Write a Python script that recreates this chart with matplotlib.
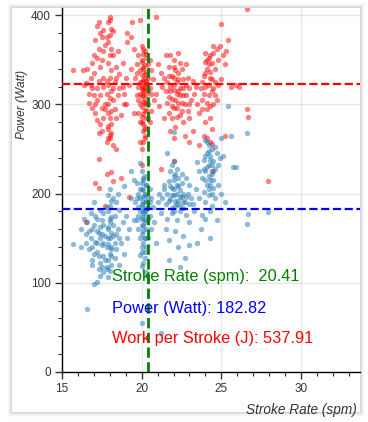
import matplotlib as mpl
import matplotlib.pyplot as plt
from matplotlib.patches import Rectangle
from matplotlib.ticker import MultipleLocator

# values
stroke_rate_mean = 20.41
power_mean = 182.82
work_per_stroke_mean = 537.91
work_line_level = 323   # red reference line as drawn on the power axis

# red points (work per stroke, drawn on the power axis)
red_x = [
    # cluster near 17-19 spm
    18.0, 17.9, 18.1, 18.0, 17.9, 18.1, 18.0, 17.9, 18.1, 18.0, 17.9, 18.1, 18.0, 17.9, 18.1, 18.0, 17.9, 18.1, 18.0,
    17.2, 17.4, 17.1, 17.6, 17.3, 17.7, 17.0, 16.9, 17.5, 16.6, 16.8, 16.5, 17.3, 17.6, 16.9, 16.4, 17.8, 17.2,
    17.5, 17.1, 17.6, 17.4, 17.9, 17.3, 18.4, 18.6, 18.3, 18.8, 18.5, 18.9, 18.3, 18.7, 18.2, 18.5, 19.0, 19.2,
    18.9, 17.7, 17.0, 16.7, 16.3, 15.7, 19.1, 19.3, 18.8, 17.8,
    17.0, 17.2, 17.4, 17.6, 17.8, 18.2, 18.4, 16.8, 17.1, 17.4, 17.7, 18.2, 18.4, 17.9, 17.5, 18.1, 17.3, 17.5,
    18.0, 18.2, 17.8, 16.7, 16.9, 18.6, 17.2, 18.0, 17.6, 17.2,
    # cluster near 20 spm
    20.0, 20.2, 20.1, 20.3, 20.0, 20.2, 20.1, 20.3, 20.0, 20.2, 20.1, 20.3, 20.0, 20.2, 20.1, 20.3, 20.0, 20.2,
    20.1, 20.3, 20.0, 20.2, 20.1, 20.3, 20.0, 20.2, 20.1,
    19.7, 19.6, 19.8, 19.7, 19.9, 20.5, 20.6, 20.7, 20.5, 20.8, 20.6, 19.8, 19.5, 21.0, 21.2, 21.3, 20.9, 21.1,
    19.9, 19.4, 19.1, 20.9, 21.5, 19.3, 19.0, 19.5, 20.4, 20.2, 19.9, 21.4,
    20.0, 20.1, 20.2, 20.3, 20.0, 20.1, 20.2, 20.3, 20.0, 20.1, 20.2, 19.9, 19.9, 19.9, 20.4, 20.4, 20.4, 20.4,
    19.8, 19.8, 20.5, 20.1, 20.3, 19.9, 20.2, 20.0, 20.2, 20.1, 19.7, 20.6,
    # cluster near 22 spm
    21.8, 22.0, 21.7, 22.1, 21.9, 22.3, 21.6, 22.0, 22.4, 21.8, 22.2, 22.6, 21.9, 22.3, 22.7, 22.0, 22.5, 21.7,
    22.2, 22.8, 23.0, 23.2, 22.9, 22.5, 22.8, 22.4, 23.3, 23.1, 22.6, 22.1, 21.6, 21.5, 23.4, 22.9, 23.0, 21.8,
    22.7, 23.2, 22.3, 21.4,
    21.8, 22.0, 22.2, 22.4, 22.6, 21.9, 22.1, 22.3, 22.0, 21.7, 22.5, 22.2, 22.4, 21.9, 22.8, 22.0, 21.7, 22.6,
    23.0, 22.3,
    # cluster near 24 spm
    24.0, 24.2, 24.4, 24.1, 24.3, 23.9, 24.5, 24.7, 24.9, 24.3, 24.6, 24.0, 24.4, 24.8, 23.7, 24.2, 23.8, 24.5,
    24.1, 23.6, 24.3, 24.7, 25.0, 25.2, 25.1, 25.4, 25.0, 23.8, 24.6, 25.3, 23.5, 24.0, 24.4, 23.9, 25.6, 26.1,
    25.9, 26.6,
    24.2, 24.3, 24.1, 24.0, 24.4, 24.2, 23.9, 24.5, 24.6, 24.1, 23.8, 24.3, 24.8, 24.5, 24.0,
    # scattered low points
    17.3, 17.8, 18.1, 17.1, 17.3, 18.2, 18.7, 19.2, 17.7, 16.5, 20.0, 21.2, 22.0, 24.4, 27.9, 26.6, 26.7, 20.0,
    20.1, 22.0, 23.0, 23.6, 24.1, 24.3, 24.4, 25.2, 18.4, 17.9, 18.2,
]
red_y = [
    398, 392, 385, 378, 370, 362, 355, 346, 338, 330, 322, 315, 307, 300, 292, 285, 276, 268, 262,
    388, 380, 372, 383, 362, 366, 355, 346, 350, 340, 330, 324, 326, 320, 318, 322, 312, 305,
    296, 290, 285, 278, 272, 268, 342, 334, 325, 320, 310, 300, 295, 288, 355, 360, 330, 322,
    312, 300, 310, 302, 338, 338, 370, 375, 346, 258,
    335, 318, 342, 330, 326, 318, 330, 322, 300, 310, 295, 305, 285, 290, 270, 278, 392, 375,
    395, 382, 375, 312, 296, 318, 282, 266, 360, 352,
    365, 360, 356, 352, 348, 344, 340, 336, 333, 330, 327, 324, 321, 318, 315, 312, 309, 306,
    303, 300, 297, 293, 289, 285, 280, 275, 270,
    345, 330, 320, 310, 300, 350, 338, 328, 318, 305, 292, 355, 362, 345, 335, 320, 312, 298,
    395, 392, 380, 398, 355, 340, 300, 290, 285, 262, 258, 285,
    350, 342, 334, 326, 318, 310, 302, 294, 286, 278, 272, 338, 325, 312, 345, 330, 315, 300,
    290, 305, 280, 362, 356, 280, 265, 325, 320, 316, 335, 312,
    355, 350, 342, 338, 332, 328, 325, 322, 318, 315, 312, 310, 306, 302, 300, 296, 292, 290,
    286, 322, 318, 326, 330, 340, 345, 346, 312, 305, 280, 275, 302, 315, 320, 292, 285, 270,
    265, 270, 358, 330,
    320, 316, 325, 310, 318, 298, 305, 315, 330, 308, 302, 296, 288, 285, 310, 342, 332, 328,
    300, 335,
    348, 352, 346, 340, 336, 332, 358, 362, 365, 330, 325, 320, 315, 322, 318, 310, 305, 300,
    295, 290, 285, 305, 328, 345, 355, 372, 390, 325, 340, 360, 300, 280, 272, 265, 320, 320,
    322, 407,
    345, 355, 350, 335, 328, 322, 312, 318, 310, 302, 295, 298, 350, 365, 358,
    239, 222, 224, 212, 206, 214, 217, 196, 186, 168, 232, 228, 237, 225, 214, 295, 286, 250,
    258, 262, 258, 255, 262, 258, 256, 265, 250, 262, 255,
]

# blue points (power)
blue_x = [
    # cluster near 17-19 spm
    18.0, 17.9, 18.1, 18.0, 17.9, 18.1, 18.0, 17.9, 18.1, 18.0, 17.9, 18.1, 18.0, 17.9, 18.1, 18.0, 17.9,
    17.0, 17.4, 16.8, 17.2, 16.6, 17.6, 16.9, 17.3, 16.5, 17.7, 16.8, 17.1, 17.5, 16.7, 17.2, 17.6, 16.9, 17.4,
    17.8, 18.4, 18.6, 18.3, 18.8, 18.5, 18.2, 18.7, 18.4, 18.9, 18.3, 19.0, 19.2, 19.1, 16.4, 16.2, 15.7, 16.2,
    17.0, 17.2, 17.4, 17.6, 17.8, 17.5, 16.6, 18.5, 19.3, 18.9, 19.5, 18.6,
    17.0, 17.2, 17.4, 17.6, 17.8, 17.1, 17.5, 17.9, 18.2, 18.3, 16.9, 17.3, 17.7, 18.1, 17.4, 16.7, 17.8, 18.2,
    17.6, 18.4, 16.9, 17.3, 17.9, 18.1, 17.2, 16.5, 17.0, 18.0, 17.5, 18.6,
    # cluster near 20 spm
    20.0, 20.2, 20.1, 20.3, 20.0, 20.2, 20.1, 20.3, 20.0, 20.2, 20.1, 20.3, 20.0, 20.2, 20.1, 20.3, 20.0, 20.2,
    20.1, 20.3, 20.0, 20.2, 20.1,
    19.7, 19.8, 19.6, 19.9, 19.7, 19.8, 20.5, 20.6, 20.7, 20.5, 20.8, 20.6, 20.4, 21.0, 21.2, 21.1, 19.5, 19.9,
    19.3, 20.0, 19.9, 20.0, 21.2, 20.9, 20.3, 21.4,
    20.0, 20.1, 20.2, 20.3, 20.0, 20.1, 20.2, 20.3, 20.0, 20.1, 20.2, 19.9, 19.9, 20.4, 20.4, 20.4, 19.8, 19.8,
    20.1, 20.2, 20.0, 20.1, 20.3, 19.9, 20.0, 20.2, 20.5, 19.7,
    # cluster near 22 spm
    21.8, 22.0, 21.7, 22.2, 21.9, 22.4, 21.6, 22.0, 22.5, 21.8, 22.3, 22.7, 21.5, 22.1, 22.6, 22.9, 23.1, 23.0,
    22.8, 22.5, 22.2, 21.9, 22.0, 23.2, 22.4, 21.9, 22.8, 21.6, 22.2, 23.0, 21.5, 22.1, 22.6, 21.7, 22.3, 23.3,
    23.4, 21.4, 21.3, 22.0, 21.6, 22.7, 21.7, 22.4,
    22.0, 22.2, 22.4, 22.1, 21.9, 22.3, 22.5, 22.0, 21.8, 22.6, 22.2, 22.4, 21.7, 22.8, 22.1, 22.3, 21.9, 22.6,
    23.0, 22.0,
    # cluster near 24 spm
    24.0, 24.2, 24.4, 24.1, 24.3, 23.9, 24.5, 24.2, 24.6, 24.0, 24.4, 23.8, 24.3, 24.1, 24.5, 23.9, 24.2, 24.6,
    24.0, 24.4, 24.3, 23.8, 24.0, 23.7, 24.3, 23.5, 23.0, 24.7, 24.9, 24.8, 25.0, 25.6, 26.6, 25.1, 25.7, 25.9,
    26.6, 26.7, 27.9, 25.4, 23.6, 23.5, 24.8, 25.0, 24.7, 25.2, 23.6,
    24.2, 24.3, 24.1, 24.4, 24.0, 24.2, 24.5, 24.3, 24.0, 24.4, 24.2, 24.6, 24.1, 23.9, 24.5,
]
blue_y = [
    205, 198, 192, 186, 180, 174, 168, 162, 156, 150, 144, 138, 132, 126, 120, 113, 107,
    190, 182, 178, 172, 168, 165, 160, 156, 155, 152, 150, 146, 142, 138, 134, 130, 126, 122,
    118, 190, 182, 175, 168, 160, 152, 145, 138, 132, 128, 175, 160, 150, 172, 160, 143, 140,
    99, 101, 108, 112, 116, 118, 71, 200, 195, 208, 170, 120,
    165, 158, 150, 145, 140, 175, 170, 160, 165, 145, 140, 130, 125, 130, 162, 158, 185, 195,
    178, 155, 120, 115, 150, 140, 145, 145, 132, 172, 155, 150,
    225, 220, 215, 210, 205, 200, 196, 192, 188, 184, 180, 176, 172, 168, 164, 160, 155, 150,
    145, 140, 134, 128, 122,
    212, 200, 190, 180, 170, 160, 205, 195, 185, 175, 168, 160, 150, 190, 178, 200, 215, 234,
    225, 119, 131, 55, 44, 145, 112, 205,
    212, 204, 198, 190, 186, 178, 170, 182, 165, 158, 150, 195, 205, 196, 185, 172, 185, 175,
    190, 182, 174, 218, 210, 150, 140, 135, 190, 195,
    225, 220, 214, 210, 206, 204, 200, 198, 196, 194, 192, 190, 188, 186, 184, 200, 195, 210,
    218, 222, 228, 232, 237, 188, 180, 178, 176, 172, 170, 168, 160, 158, 152, 148, 140, 180,
    205, 210, 195, 269, 245, 128, 125, 118,
    205, 200, 196, 192, 198, 208, 212, 215, 208, 200, 188, 186, 192, 196, 222, 218, 184, 190,
    188, 180,
    260, 255, 250, 246, 242, 238, 236, 232, 228, 225, 222, 218, 215, 210, 206, 202, 198, 195,
    190, 186, 180, 176, 172, 160, 150, 145, 142, 245, 240, 232, 262, 264, 268, 242, 230, 230,
    166, 177, 179, 298, 225, 235, 210, 200, 170, 190, 195,
    248, 238, 230, 232, 242, 220, 225, 210, 215, 200, 205, 252, 258, 228, 215,
]
assert len(red_x) == len(red_y) and len(blue_x) == len(blue_y)

mpl.rcParams.update({
    "font.family": ["Liberation Sans", "DejaVu Sans"],
    "xtick.labelsize": 8.5, "ytick.labelsize": 8.5,
    "xtick.color": "#333333", "ytick.color": "#333333",
    "axes.linewidth": 1.0,
})

fig = plt.figure(figsize=(3.68, 4.22), dpi=100, facecolor="white")

# card with a soft shadow behind the plot
for i, a in enumerate([0.05, 0.04, 0.03, 0.02, 0.015]):
    off = (i + 1) / 368
    fig.patches.append(Rectangle((12 / 368 - off, 10 / 422 - off * 368 / 422),
                                 (348 / 368) + 2 * off, (404 / 422) + 2 * off * 368 / 422,
                                 transform=fig.transFigure, facecolor="black", alpha=a,
                                 edgecolor="none", zorder=-3))
fig.patches.append(Rectangle((12 / 368, 10 / 422), 348 / 368, 404 / 422,
                             transform=fig.transFigure, facecolor="white",
                             edgecolor="none", zorder=-2))

ax = fig.add_axes([62 / 368, 50 / 422, 298 / 368, 364 / 422])
ax.set_facecolor("white")

ax.scatter(red_x, red_y, s=15, color="#ff0000", alpha=0.5, linewidths=0, zorder=2)
ax.scatter(blue_x, blue_y, s=15, color="#1f77b4", alpha=0.5, linewidths=0, zorder=3)

ax.axvline(stroke_rate_mean, color="green", ls="--", lw=2.0, zorder=4)
ax.axhline(power_mean, color="blue", ls="--", lw=1.6, zorder=4)
ax.axhline(work_line_level, color="red", ls="--", lw=1.6, zorder=4)

ax.text(18.14, 107.6, f"Stroke Rate (spm):  {stroke_rate_mean:.2f}", color="green",
        fontsize=11.8, va="center", zorder=5)
ax.text(18.14, 71.7, f"Power (Watt): {power_mean:.2f}", color="blue",
        fontsize=11.8, va="center", zorder=5)
ax.text(18.14, 37, f"Work per Stroke (J): {work_per_stroke_mean:.2f}", color="red",
        fontsize=11.8, va="center", zorder=5)

ax.set_xlim(15, 33.7)
ax.set_ylim(0, 408)
ax.xaxis.set_major_locator(MultipleLocator(5))
ax.xaxis.set_minor_locator(MultipleLocator(1))
ax.yaxis.set_major_locator(MultipleLocator(100))
ax.yaxis.set_minor_locator(MultipleLocator(20))
ax.tick_params(which="major", length=5, width=1.0, pad=3)
ax.tick_params(which="minor", length=3, width=0.8)
ax.grid(True, which="major", color="#e6e6e6", lw=1.0, zorder=0)
ax.set_axisbelow(True)
for side in ("top", "right"):
    ax.spines[side].set_visible(False)

ax.set_xlabel("Stroke Rate (spm)", fontsize=9.8, style="italic", color="#333333", loc="right")
ax.xaxis.set_label_coords(0.99, -0.085)
ax.set_ylabel("Power (Watt)", fontsize=8.6, style="italic", color="#333333", loc="top")
ax.yaxis.set_label_coords(-0.114, 0.83)

fig.savefig("out.png", dpi=100, facecolor=fig.get_facecolor())
